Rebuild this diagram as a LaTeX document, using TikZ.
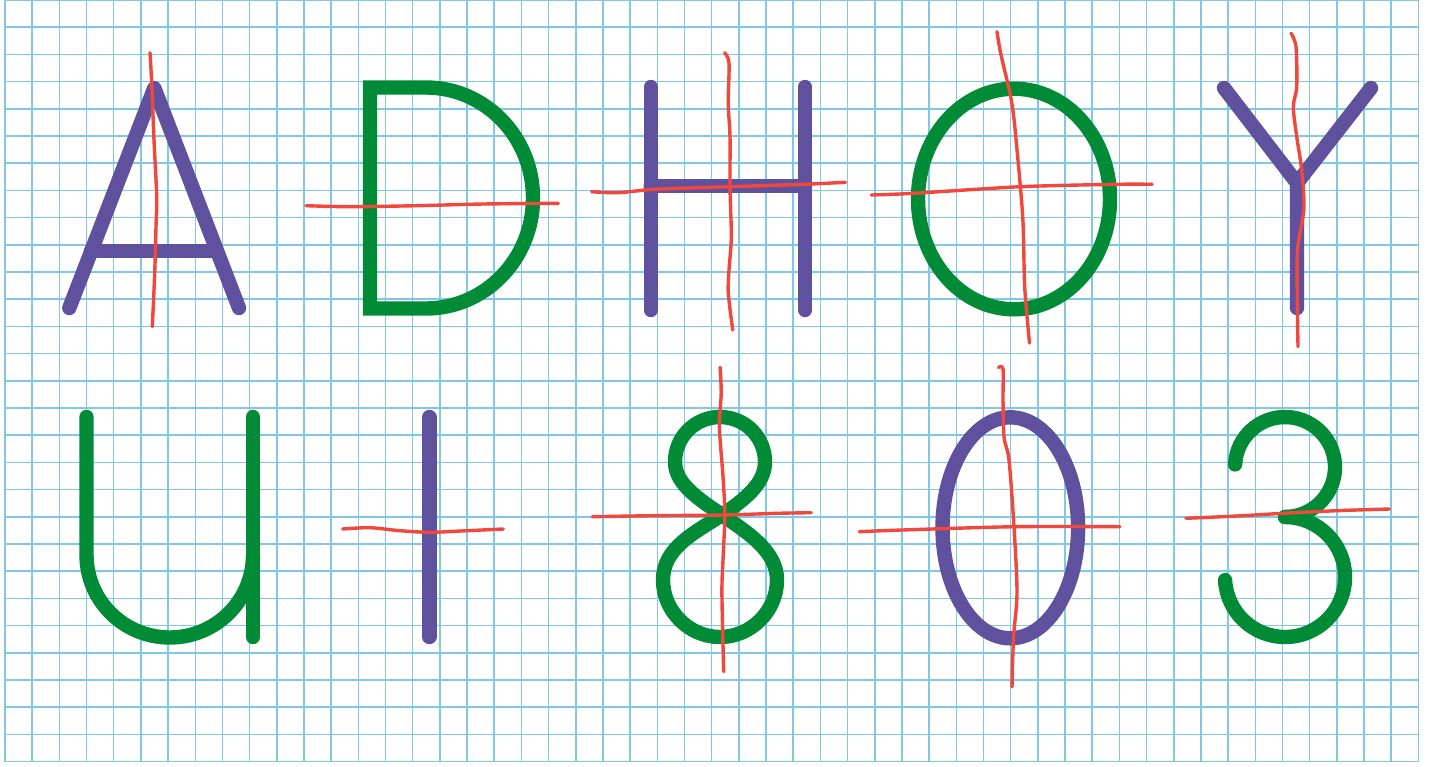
\documentclass[tikz,border=0pt]{standalone}
\definecolor{gridblue}{RGB}{128,200,230}
\definecolor{ltrpurple}{RGB}{95,81,158}
\definecolor{ltrgreen}{RGB}{2,139,54}
\definecolor{penred}{RGB}{240,72,60}
\tikzset{
  gridline/.style={draw=gridblue, line width=0.75pt},
  purplestroke/.style={draw=ltrpurple, line width=7.2pt, line cap=round, line join=round},
  greenstroke/.style={draw=ltrgreen, line width=7.2pt, line cap=round, line join=round},
  redline/.style={draw=penred, line width=1.7pt, line cap=round, line join=round},
}
\begin{document}
\begin{tikzpicture}[x=0.5pt, y=-0.5pt]
\useasboundingbox (0,0) rectangle (1438,766);
\fill[white] (0,0) rectangle (1438,766);
\begin{scope}
\clip (0,0) rectangle (1438,766);
% grid
\foreach \i in {0,...,52} {
  \draw[gridline] ({5+27.18*\i},0) -- ({5+27.18*\i},761.6);
}
\foreach \j in {0,...,28} {
  \draw[gridline] (5,{27.2*\j}) -- (1418.4,{27.2*\j});
}
\end{scope}

% ---------- top row ----------
% A
\draw[purplestroke] (69.3,308) -- (154.3,88) -- (239,308);
\draw[purplestroke] (91,251) -- (217,251);
% D
\draw[greenstroke, line join=miter] (370,87.5) -- (426,87.5)
  arc[start angle=-90, end angle=90, x radius=107, y radius=110.5] -- (370,308.5) -- cycle;
% H
\draw[purplestroke] (650.7,87) -- (650.7,310);
\draw[purplestroke] (805,87) -- (805,310);
\draw[purplestroke] (650.7,186) -- (805,186);
% O
\draw[greenstroke] (1014,199) ellipse[x radius=96, y radius=110.3];
% Y
\draw[purplestroke] (1224,88) -- (1297,183) -- (1297,308);
\draw[purplestroke] (1371,88) -- (1297,183);

% ---------- bottom row ----------
% U
\draw[greenstroke] (86.5,417) -- (86.5,555) arc[start angle=180, end angle=0, x radius=83.25, y radius=82.5];
\draw[greenstroke] (253,417) -- (253,637);
% I
\draw[purplestroke] (429.3,417) -- (429.3,637);
% 8
\draw[greenstroke] (722,515) .. controls (742,501) and (765,485) .. (765,462)
  .. controls (765,437) and (745,417) .. (720,417)
  .. controls (695,417) and (675,437) .. (675,462)
  .. controls (675,485) and (702,501) .. (722,515)
  .. controls (745,531) and (777,550) .. (777,580)
  .. controls (777,611) and (751,637) .. (720,637)
  .. controls (689,637) and (663,611) .. (663,580)
  .. controls (663,548) and (694,533) .. cycle;
% 0
\draw[purplestroke] (1010.3,527.8) ellipse[x radius=67.8, y radius=110.5];
% 3
\draw[greenstroke] (1235.07,464.38) arc[start angle=183, end angle=450, radius=50];
\draw[greenstroke] (1285,517) arc[start angle=-90, end angle=177, radius=60];

% ---------- red symmetry lines ----------
\draw[redline] plot[smooth] coordinates {(150,52.7) (151.7,83.3) (154,140) (156.7,196.7) (156,226.7) (154.7,273.3) (152.3,326.7)};
\draw[redline] plot[smooth] coordinates {(306,205.7) (350,206.7) (416.7,205.7) (483.3,204) (558.3,203.3)};
\draw[redline] plot[smooth] coordinates {(724.6,52.7) (729,63.3) (728.2,103.3) (730,136.7) (730,186.7) (731.3,236.7) (729,270) (728.3,293.3) (732.7,330)};
\draw[redline] plot[smooth] coordinates {(591.6,191.7) (618.2,192.7) (655.1,189.3) (729,186.7) (803,184.3) (845.5,182.3)};
\draw[redline] plot[smooth] coordinates {(997,31.7) (1000.6,53) (1011.8,103) (1017.3,153) (1022.9,220) (1024.7,287) (1029.5,343)};
\draw[redline] plot[smooth] coordinates {(871.3,195) (913.8,193.3) (1021,186.7) (1117,184.3) (1152.2,184.3)};
\draw[redline] plot[smooth] coordinates {(1291,33.3) (1296,46.7) (1296.7,86.7) (1293.3,106.7) (1296.7,136.7) (1301.7,170) (1304,206.7) (1300,233.3) (1297.3,253.3) (1297.3,303.3) (1298,346.7)};
\draw[redline] plot[smooth] coordinates {(342.7,529) (370,527.7) (400,530.7) (430,532.3) (466.7,530.7) (503.3,529)};
\draw[redline] plot[smooth] coordinates {(720.1,367.3) (721.2,393.3) (719.4,426.7) (723,476.7) (724.8,515) (723,560) (721.9,593.3) (723.7,671.7)};
\draw[redline] plot[smooth] coordinates {(592.3,516.7) (652.3,515.7) (723.7,515) (777.2,513.3) (811.2,512.7)};
\draw[redline] plot[smooth] coordinates {(998.5,367.5) (1003,369) (1003,400) (1004,437) (1009,460) (1014,527) (1017,593) (1013.5,637) (1012,687)};
\draw[redline] plot[smooth] coordinates {(859.3,531.7) (902.2,530) (1014.6,526.7) (1119.9,526.7)};
\draw[redline] plot[smooth] coordinates {(1186,518.3) (1236.7,516) (1283.3,513.3) (1336.7,510.7) (1389.3,509)};
\end{tikzpicture}
\end{document}
